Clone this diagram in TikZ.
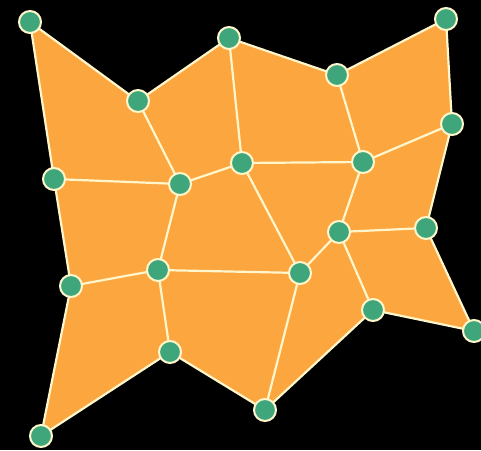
\documentclass[tikz,border=0pt]{standalone}
\begin{document}
\begin{tikzpicture}[x=1pt,y=-1pt,
  vert/.style={circle,fill=vgreen,draw=edgecol,line width=2pt,minimum size=22pt,inner sep=0pt},
  edge/.style={draw=edgecol,line width=2.2pt}]
\definecolor{vgreen}{HTML}{3FA67B}
\definecolor{face}{HTML}{FCA640}
\definecolor{edgecol}{HTML}{FFF6CC}
\fill[black] (0,0) rectangle (481,450);
\useasboundingbox (0,0) rectangle (481,450);
\begin{scope}[shift={(1,1)}]
\coordinate (n1) at (29,21);
\coordinate (n2) at (137,100);
\coordinate (n3) at (228,37);
\coordinate (n4) at (336,74);
\coordinate (n5) at (445,18);
\coordinate (n6) at (451,123);
\coordinate (n7) at (362,161);
\coordinate (n8) at (241,162);
\coordinate (n9) at (179,183);
\coordinate (n10) at (53,178);
\coordinate (n11) at (70,285);
\coordinate (n12) at (157,269);
\coordinate (n13) at (299,272);
\coordinate (n14) at (338,231);
\coordinate (n15) at (425,227);
\coordinate (n16) at (473,330);
\coordinate (n17) at (372,309);
\coordinate (n18) at (264,409);
\coordinate (n19) at (169,351);
\coordinate (n20) at (40,435);
\end{scope}
\fill[face] (n1)--(n2)--(n3)--(n4)--(n5)--(n6)--(n15)--(n16)--(n17)--(n18)--(n19)--(n20)--(n11)--(n10)--cycle;
\foreach \a/\b in {1/2,2/3,3/4,4/5,5/6,6/7,4/7,3/8,7/8,8/9,2/9,9/10,1/10,10/11,11/12,9/12,12/13,8/13,13/14,7/14,14/15,6/15,15/16,16/17,14/17,17/18,13/18,18/19,12/19,19/20,11/20}
  \draw[edge] (n\a)--(n\b);
\foreach \i in {1,...,20}
  \node[vert] (v\i) at (n\i) {};
\end{tikzpicture}
\end{document}
